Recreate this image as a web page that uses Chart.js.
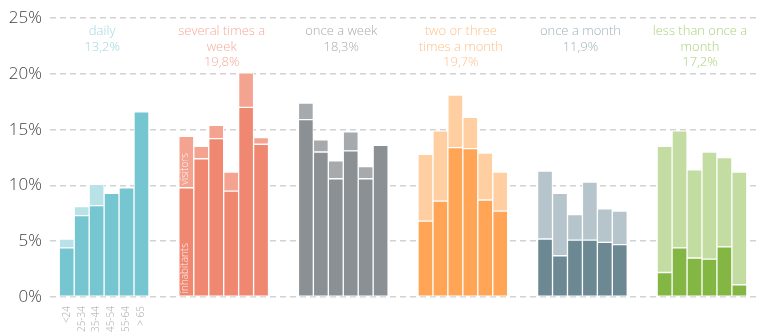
<!DOCTYPE html>
<html>
<head>
<meta charset="utf-8">
<script src="https://cdn.jsdelivr.net/npm/chart.js@4/dist/chart.umd.min.js"></script>
<style>
  html, body { margin: 0; padding: 0; background: #ffffff; }
  canvas { display: block; }
</style>
</head>
<body>
<canvas id="chart" width="757" height="333"></canvas>
<script>
// Visit frequency groups, their overall share and the age groups inside each
const frequencyTitles = [
  ['daily'],
  ['several times a', 'week'],
  ['once a week'],
  ['two or three', 'times a month'],
  ['once a month'],
  ['less than once a', 'month']
];
const frequencyShares = ['13,2%', '19,8%', '18,3%', '19,7%', '11,9%', '17,2%'];
const ageGroups = ['<24', '25-34', '35-44', '45-54', '55-64', '> 65'];
const yTicks = [0, 5, 10, 15, 20, 25];

// Share (%) per age group: inhabitants and visitors for each frequency
const inhabitantsDaily      = [4.4, 7.3, 8.2, 9.3, 9.8, 16.6];
const visitorsDaily         = [0.8, 0.8, 1.9, 0, 0, 0];
const inhabitantsSeveral    = [9.8, 12.4, 14.2, 9.5, 17.0, 13.7];
const visitorsSeveral       = [4.6, 1.1, 1.2, 1.7, 3.1, 0.6];
const inhabitantsWeekly     = [15.9, 13.0, 10.6, 13.1, 10.6, 13.6];
const visitorsWeekly        = [1.5, 1.1, 1.6, 1.7, 1.1, 0];
const inhabitantsTwoThree   = [6.8, 8.6, 13.4, 13.3, 8.7, 7.7];
const visitorsTwoThree      = [6.0, 6.3, 4.7, 2.8, 4.2, 3.5];
const inhabitantsMonthly    = [5.2, 3.7, 5.1, 5.1, 4.9, 4.7];
const visitorsMonthly       = [6.1, 5.6, 2.3, 5.2, 3.0, 3.0];
const inhabitantsLess       = [2.2, 4.4, 3.5, 3.4, 4.5, 1.1];
const visitorsLess          = [11.3, 10.5, 7.9, 9.6, 8.0, 10.1];

const inhabitantColors = ['#76c6d1', '#ef8771', '#8b9094', '#ffa555', '#6b8893', '#83b642'];
const visitorColors    = ['#b9e2e8', '#f3a390', '#a7aaad', '#ffcfa1', '#b5c5cb', '#c3dca1'];
const titleColors      = ['#9fd7df', '#f5aa99', '#a9abad', '#ffc28c', '#a0b3ba', '#a9d37f'];

const inhabitantGroups = [inhabitantsDaily, inhabitantsSeveral, inhabitantsWeekly,
                          inhabitantsTwoThree, inhabitantsMonthly, inhabitantsLess];
const visitorGroups    = [visitorsDaily, visitorsSeveral, visitorsWeekly,
                          visitorsTwoThree, visitorsMonthly, visitorsLess];

// Each group takes 6 slots plus 2 empty slots before the next group
const GROUP_STEP = 8;
const slot = (g, i) => g * GROUP_STEP + i;

function points(groups) {
  const out = [];
  groups.forEach((vals, g) => vals.forEach((v, i) => out.push({ x: slot(g, i), y: v })));
  return out;
}
function colors(list) {
  const out = [];
  list.forEach(c => ageGroups.forEach(() => out.push(c)));
  return out;
}

const FONT = "'Open Sans', 'Segoe UI', sans-serif";

// Frequency titles above each group and series names inside the first bar
const annotations = {
  id: 'annotations',
  afterDatasetsDraw(chart) {
    const { ctx, scales: { x }, chartArea } = chart;
    ctx.save();
    ctx.font = `300 13px ${FONT}`;
    ctx.textAlign = 'center';
    ctx.textBaseline = 'middle';
    frequencyTitles.forEach((lines, g) => {
      const cx = x.getPixelForValue(slot(g, 2.5)) - 2;
      ctx.fillStyle = titleColors[g];
      lines.concat([frequencyShares[g]]).forEach((t, k) => {
        ctx.fillText(t, cx, chartArea.top + 13.5 + k * 15.2);
      });
    });

    ctx.font = `300 10px ${FONT}`;
    ctx.fillStyle = 'rgba(255,255,255,0.9)';
    ctx.textAlign = 'left';
    const inhBar = chart.getDatasetMeta(0).data[6];
    const visBar = chart.getDatasetMeta(1).data[6];
    [[inhBar, 'inhabitants'], [visBar, 'visitors']].forEach(([bar, text]) => {
      ctx.save();
      ctx.translate(bar.x - 1, bar.base - 3);
      ctx.rotate(-Math.PI / 2);
      ctx.fillText(text, 0, 0);
      ctx.restore();
    });
    ctx.restore();
  }
};

new Chart(document.getElementById('chart'), {
  type: 'bar',
  data: {
    datasets: [
      {
        label: 'inhabitants',
        data: points(inhabitantGroups),
        backgroundColor: colors(inhabitantColors),
        borderColor: '#ffffff',
        borderWidth: 1,
        borderSkipped: false
      },
      {
        label: 'visitors',
        data: points(visitorGroups),
        backgroundColor: colors(visitorColors),
        borderColor: '#ffffff',
        borderWidth: 1,
        borderSkipped: false
      }
    ]
  },
  options: {
    responsive: false,
    animation: false,
    barPercentage: 1,
    categoryPercentage: 1,
    layout: { padding: { top: 15, right: 0, left: 0, bottom: 0 } },
    plugins: { legend: { display: false }, tooltip: { enabled: false } },
    scales: {
      x: {
        type: 'linear',
        stacked: true,
        offset: false,
        min: -1.12,
        max: 46.18,
        grid: { display: false, drawTicks: false },
        border: { display: false },
        afterBuildTicks: scale => { scale.ticks = ageGroups.map((a, i) => ({ value: slot(0, i) })); },
        afterFit: scale => { scale.height = 36; },
        ticks: {
          autoSkip: false,
          minRotation: 90,
          maxRotation: 90,
          padding: 9,
          color: '#a8a8a8',
          font: { family: FONT, size: 10, weight: '300' },
          callback: (value, index) => ageGroups[index]
        }
      },
      y: {
        stacked: true,
        min: 0,
        max: 25,
        afterBuildTicks: scale => { scale.ticks = yTicks.map(v => ({ value: v })); },
        afterFit: scale => { scale.width = 50; },
        grid: { color: '#d2d2d2', lineWidth: 1.5, drawTicks: false },
        border: { display: false, dash: [6, 4] },
        ticks: {
          padding: 8,
          color: '#444444',
          font: { family: FONT, size: 17, weight: '300' },
          callback: v => v + '%'
        }
      }
    }
  },
  plugins: [annotations]
});
</script>
</body>
</html>
